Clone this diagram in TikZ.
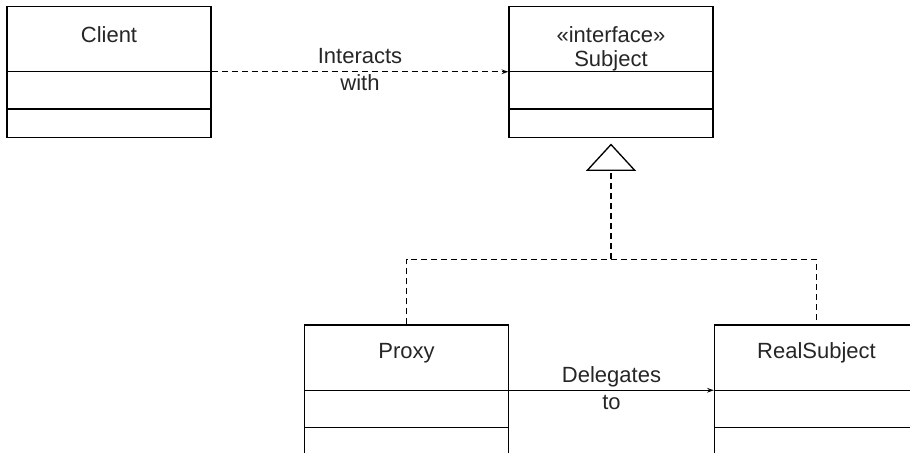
\documentclass[tikz,border=0pt]{standalone}
\usepackage{fontspec}
\setmainfont{Liberation Sans}
\usetikzlibrary{arrows.meta,positioning,calc}
\tikzset{
node distance=4cm, % overridden per node below
classbox/.style={draw, line width=1.1pt, minimum width=153pt, minimum height=98.25pt, inner sep=0pt},
title/.style={anchor=center, yshift=-21.75pt, align=center, font=\fontsize{16.5}{18}\selectfont},
msg/.style={align=center, yshift=1.5pt, inner sep=0pt, font=\fontsize{16.5}{20.25}\selectfont},
realize/.style={line width=1pt, dash pattern=on 4.5pt off 3pt},
}

\begin{document}
\begin{tikzpicture}[x=0.75pt,y=-0.75pt,on grid,text=black!85]
   \clip (0,0) rectangle (910,453);
   \node[classbox, label={[title]north:Client}] (client) at (109,72) {};
   \node[classbox, label={[title, yshift=-10.9pt]north:{«interface»\\Subject}}] (subject) [right=376.5pt of client] {};
   \node[classbox, label={[title]north:Proxy}] (proxy) [below left=238.875pt and 153.375pt of subject] {};
   \node[classbox, label={[title]north:RealSubject}] (realsubject) [right=307.5pt of proxy] {};
   % compartments
   \foreach \c in {client,subject,proxy,realsubject}
     \draw[line width=1.1pt] ([yshift=-49.5pt]\c.north west) -- ([yshift=-49.5pt]\c.north east)
           ([yshift=-77.25pt]\c.north west) -- ([yshift=-77.25pt]\c.north east);
   \coordinate[below=90.75pt of subject.south] (bar);
   \draw[realize, -{Stealth[length=5pt,width=3.5pt]}] ([yshift=-49.5pt]client.north east) -- node[msg] {Interacts\\with} ([yshift=-49.5pt]subject.north west);
   \draw[line width=1pt, -{Stealth[length=5pt,width=3.5pt]}] ([yshift=-49.5pt]proxy.north east) -- node[msg] {Delegates\\to} ([yshift=-49.5pt]realsubject.north west);
   \draw[realize] (proxy.north) |- (bar) -| (realsubject.north);
   \draw[realize, -{Triangle[open, length=20.5pt, width=37.5pt]}, shorten >=4pt] (bar) -- (subject.south);
\end{tikzpicture}
\end{document}
